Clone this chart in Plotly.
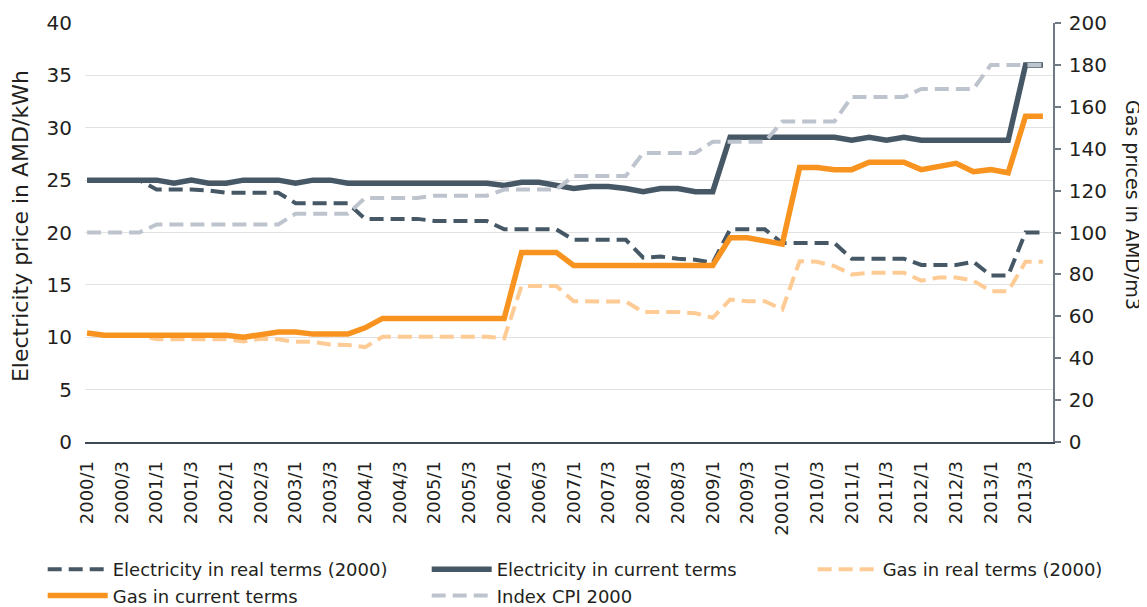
import plotly.graph_objects as go

quarters = [f"{y}/{q}" for y in range(2000, 2014) for q in range(1, 5)]

tick_vals = quarters[::2]
tick_text = ["2000/1", "2000/3", "2001/1", "2001/3", "2002/1", "2002/3", "2003/1", "2003/3",
             "2004/1", "2004/3", "2005/1", "2005/3", "2006/1", "2006/3", "2007/1", "2007/3",
             "2008/1", "2008/3", "2009/1", "2009/3", "20010/1", "2010/3", "2011/1", "2011/3",
             "2012/1", "2012/3", "2013/1", "2013/3"]

# Electricity price, AMD/kWh (left axis)
elec_current = [25, 25, 25, 25, 25, 24.7, 25, 24.7, 24.7, 25, 25, 25, 24.7, 25, 25,
                24.7, 24.7, 24.7, 24.7, 24.7, 24.7, 24.7, 24.7, 24.7,
                24.5, 24.8, 24.8, 24.5, 24.2, 24.4, 24.4, 24.2, 23.9, 24.2, 24.2, 23.9, 23.9,
                29.1, 29.1, 29.1, 29.1, 29.1, 29.1, 29.1,
                28.8, 29.1, 28.8, 29.1,
                28.8, 28.8, 28.8, 28.8, 28.8, 28.8,
                36.0, 36.0]
elec_real = [25, 25, 25, 25, 24.1, 24.1, 24.1, 24.0, 23.8, 23.8, 23.8, 23.8,
             22.8, 22.8, 22.8, 22.8, 21.3, 21.3, 21.3, 21.3, 21.1, 21.1, 21.1, 21.1,
             20.3, 20.3, 20.3, 20.3, 19.3, 19.3, 19.3, 19.3,
             17.6, 17.7, 17.5, 17.4, 17.1, 20.3, 20.3, 20.3,
             19.0, 19.0, 19.0, 19.0, 17.5, 17.5, 17.5, 17.5,
             16.9, 16.9, 16.9, 17.2, 15.9, 15.9, 20.0, 20.0]

# Gas price, AMD/m3 and CPI index (right axis)
gas_current = [52, 51, 51, 51, 51, 51, 51, 51, 51, 50, 51.5, 52.5, 52.5, 51.5, 51.5, 51.5,
               54.5, 59, 59, 59, 59, 59, 59, 59, 59,
               90.5, 90.5, 90.5, 84.3, 84.3, 84.3, 84.3, 84.3, 84.3, 84.3, 84.3, 84.3,
               97.5, 97.5, 96, 94.5, 131, 131, 130, 130, 133.5, 133.5, 133.5,
               130, 131.5, 133, 129, 130, 128.5, 155.5, 155.5]
gas_real = [52, 51, 51, 51, 49, 49, 49, 49, 49, 48, 49.3, 49, 47.8, 47.8, 46.5, 46.3,
            45.3, 50.2, 50.2, 50.2, 50.2, 50.2, 50.2, 50.2, 49.5,
            74.5, 74.5, 74.5, 67.2, 67, 67, 67, 62, 62, 62, 61.5, 59.3,
            68, 67.2, 67.2, 63.3, 86.3, 86, 84, 80, 80.8, 80.8, 80.8,
            77, 78.5, 78.5, 77, 72, 72, 86, 86]
cpi = [100, 100, 100, 100, 103.8, 103.8, 103.8, 103.8, 103.8, 103.8, 103.8, 103.8,
       109, 109, 109, 109, 116.5, 116.5, 116.5, 116.5, 117.6, 117.6, 117.6, 117.6,
       120.5, 120.5, 120.5, 120.5, 127, 127, 127, 127, 138, 138, 138, 138,
       143.3, 143.3, 143.3, 143.3, 153, 153, 153, 153, 164.7, 164.7, 164.7, 164.7,
       168.5, 168.5, 168.5, 168.5, 180, 180, 180, 180]

DARK = "#465866"
ORANGE = "#F7931E"
LIGHT_ORANGE = "#FECB95"
GRAY = "#BEC4CE"
FONT = "DejaVu Sans"
TXT = "#231F20"

fig = go.Figure()
fig.add_trace(go.Scatter(x=quarters, y=elec_real, mode="lines", name="Electricity in real terms (2000)",
                         line=dict(color=DARK, width=4, dash="14px,7px"), legend="legend"))
fig.add_trace(go.Scatter(x=quarters, y=elec_current, mode="lines", name="Electricity in current terms",
                         line=dict(color=DARK, width=5.5), legend="legend2"))
fig.add_trace(go.Scatter(x=quarters, y=gas_real, mode="lines", name="Gas in real terms (2000)",
                         line=dict(color=LIGHT_ORANGE, width=4, dash="14px,7px"), yaxis="y2", legend="legend3"))
fig.add_trace(go.Scatter(x=quarters, y=gas_current, mode="lines", name="Gas in current terms",
                         line=dict(color=ORANGE, width=5.5), yaxis="y2", legend="legend"))
fig.add_trace(go.Scatter(x=quarters, y=cpi, mode="lines", name="Index CPI 2000",
                         line=dict(color=GRAY, width=4, dash="14px,7px"), yaxis="y2", legend="legend2"))

leg_common = dict(orientation="v", xanchor="left", yanchor="top", y=-0.26,
                  bgcolor="rgba(0,0,0,0)", font=dict(family=FONT, size=18, color=TXT),
                  itemwidth=60, tracegroupgap=0)

fig.update_layout(
    width=1139, height=599,
    margin=dict(l=77, r=94, t=15, b=165, autoexpand=False),
    paper_bgcolor="white", plot_bgcolor="white",
    font=dict(family=FONT, color=TXT),
    showlegend=True,
    legend=dict(x=-0.0437, **leg_common),
    legend2=dict(x=0.353, **leg_common),
    legend3=dict(x=0.7517, **leg_common),
    xaxis=dict(type="category", categoryorder="array", categoryarray=quarters,
               range=[-0.12, 55.58], tickmode="array", tickvals=tick_vals, ticktext=tick_text,
               tickangle=-90, tickfont=dict(size=18, color=TXT), showgrid=False,
               showline=True, linecolor="#3d4a55", linewidth=1.5, ticks="", zeroline=False,
               ticklabelstandoff=10),
    yaxis=dict(range=[0, 40], dtick=5, tickfont=dict(size=20, color=TXT), showgrid=True,
               gridcolor="#e2e2e2", gridwidth=1.2, zeroline=False, showline=False, ticks="",
               ticklabelstandoff=12),
    yaxis2=dict(range=[0, 200], dtick=20, overlaying="y", side="right", showgrid=False,
                zeroline=False, showline=True, linecolor="#707a85", linewidth=1.5,
                ticks="outside", ticklen=6, tickwidth=1.5, tickcolor="#707a85",
                tickfont=dict(size=20, color=TXT), ticklabelstandoff=4),
    annotations=[
        dict(text="Electricity price in AMD/kWh", xref="paper", yref="paper", x=-0.0671, y=0.5155,
             textangle=-90, showarrow=False, font=dict(size=22, color=TXT, family=FONT),
             xanchor="center", yanchor="middle"),
        dict(text="Gas prices in AMD/m3", xref="paper", yref="paper", x=1.0826, y=0.5656,
             textangle=90, showarrow=False, font=dict(size=19, color=TXT, family=FONT),
             xanchor="center", yanchor="middle"),
    ],
)

fig.write_html("out.html")
